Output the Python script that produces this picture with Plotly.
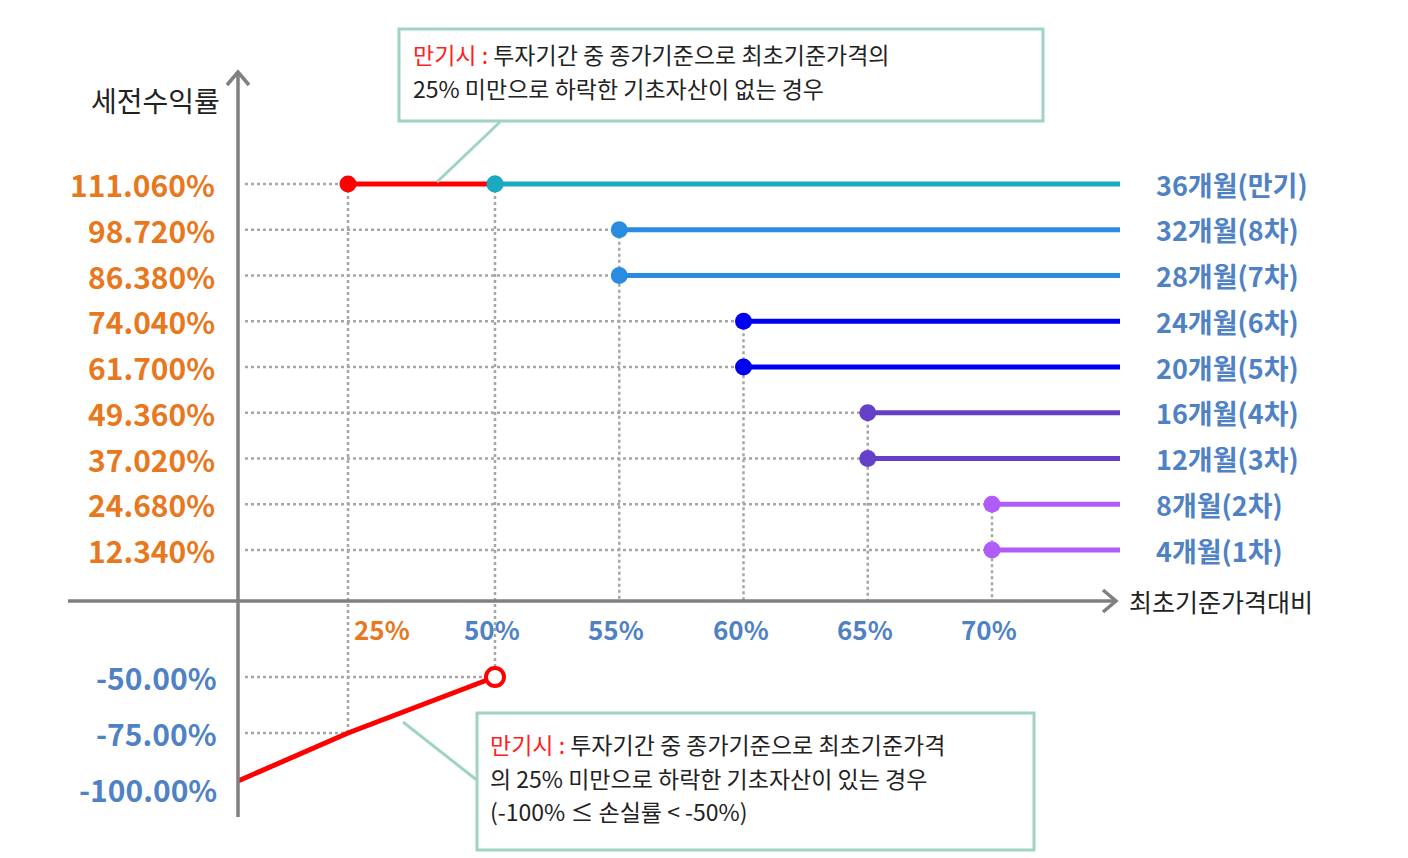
import numpy as np
import plotly.graph_objects as go

# payoff levels (pre-tax return, %) and the barrier each one needs (% of initial price)
levels = [12.34, 24.68, 37.02, 49.36, 61.70, 74.04, 86.38, 98.72, 111.06]
barriers = [70, 70, 65, 65, 60, 60, 55, 55, 50]
periods = ["4개월(1차)", "8개월(2차)", "12개월(3차)", "16개월(4차)", "20개월(5차)",
           "24개월(6차)", "28개월(7차)", "32개월(8차)", "36개월(만기)"]
level_labels = ["12.340%", "24.680%", "37.020%", "49.360%", "61.700%",
                "74.040%", "86.380%", "98.720%", "111.060%"]

# maturity with a knock-in: loss line
loss_x = [0, 25, 50]
loss_y = [-100, -75, -50]
loss_labels = ["-100.00%", "-75.00%", "-50.00%"]

x_ticks = [25, 50, 55, 60, 65, 70]
x_tick_labels = ["25%", "50%", "55%", "60%", "65%", "70%"]
ki_barrier = 25

# styling
line_colors = ["#B05CF8", "#B05CF8", "#6440C8", "#6440C8", "#0000F0",
               "#0000F0", "#2A8CE0", "#2A8CE0", "#1AAAC0"]
ORANGE = "#E8781E"
BLUE_TXT = "#4F82C4"
GUIDE = "#A6A6A6"
AXIS = "#808080"
BOX = "#9FD4C4"
FONT = "Noto Sans CJK KR"

# schematic (non-linear) scales, drawn in pixel space
def xp(v):
    return np.interp(v, [0, 25, 50, 70, 80], [238, 348, 495, 992, 1240.5])

def yp(v):
    return np.interp(v, [-100, -75, -50, 0, 12.34, 111.06], [781, 733, 677, 601, 550, 184])

AXIS_X0 = 238
LINE_END = 1120

fig = go.Figure()

def dotted(xs, ys):
    fig.add_trace(go.Scatter(x=xs, y=ys, mode="lines", hoverinfo="skip",
                             line=dict(color=GUIDE, width=2.5, dash="dot")))

# horizontal guides from the y axis to each start point
for lv, b in zip(levels, barriers):
    xstart = ki_barrier if lv == levels[-1] else b
    dotted([AXIS_X0 + 7, xp(xstart)], [yp(lv), yp(lv)])
# vertical guides down to the x axis
for b in sorted(set(barriers)):
    top = max(lv for lv, bb in zip(levels, barriers) if bb == b)
    bottom = yp(-50) if b == 50 else yp(0)
    dotted([xp(b), xp(b)], [yp(top), bottom])
dotted([xp(ki_barrier), xp(ki_barrier)], [yp(levels[-1]), yp(-75)])
dotted([AXIS_X0 + 7, xp(50)], [yp(-50), yp(-50)])
dotted([AXIS_X0 + 7, xp(25)], [yp(-75), yp(-75)])

# axes with open arrowheads
fig.add_shape(type="line", x0=AXIS_X0, x1=AXIS_X0, y0=817, y1=72, line=dict(color=AXIS, width=3.5))
fig.add_shape(type="line", x0=68, x1=1115, y0=yp(0), y1=yp(0), line=dict(color=AXIS, width=3.5))
fig.add_shape(type="path", path="M 227 85 L 238 72 L 249 85", line=dict(color=AXIS, width=3.5))
fig.add_shape(type="path", path="M 1103 590 L 1116 601 L 1103 612", line=dict(color=AXIS, width=3.5))

# payoff lines
for lv, b, c, p in zip(levels, barriers, line_colors, periods):
    fig.add_trace(go.Scatter(x=[xp(b), LINE_END], y=[yp(lv), yp(lv)], mode="lines",
                             line=dict(color=c, width=5), hoverinfo="skip"))
    fig.add_trace(go.Scatter(x=[xp(b)], y=[yp(lv)], mode="markers",
                             marker=dict(color=c, size=17), hoverinfo="skip"))
    fig.add_annotation(x=1154, y=yp(lv), text=p, showarrow=False, xanchor="left",
                       font=dict(size=27, color=BLUE_TXT, family=FONT, weight="bold"))

# maturity: red segment between 25% and 50%
fig.add_trace(go.Scatter(x=[xp(ki_barrier), xp(50)], y=[yp(levels[-1])] * 2, mode="lines",
                         line=dict(color="#FF0000", width=5), hoverinfo="skip"))
fig.add_trace(go.Scatter(x=[xp(ki_barrier)], y=[yp(levels[-1])], mode="markers",
                         marker=dict(color="#FF0000", size=17), hoverinfo="skip"))
fig.add_trace(go.Scatter(x=[xp(50)], y=[yp(levels[-1])], mode="markers",
                         marker=dict(color=line_colors[-1], size=17), hoverinfo="skip"))

# loss line
fig.add_trace(go.Scatter(x=xp(loss_x), y=yp(loss_y), mode="lines",
                         line=dict(color="#FF0000", width=5), hoverinfo="skip"))
fig.add_trace(go.Scatter(x=[xp(loss_x[-1])], y=[yp(loss_y[-1])], mode="markers",
                         marker=dict(color="white", size=18, line=dict(color="#FF0000", width=4)),
                         hoverinfo="skip"))

# y tick labels
for lv, t in zip(levels, level_labels):
    fig.add_annotation(x=217, y=yp(lv), text=t, showarrow=False, xanchor="right",
                       font=dict(size=30, color=ORANGE, family=FONT, weight="bold"))
for lv, t in zip(loss_y, loss_labels):
    fig.add_annotation(x=219, y=yp(lv) + (8 if lv == -100 else 0), text=t, showarrow=False,
                       xanchor="right", font=dict(size=30, color=BLUE_TXT, family=FONT, weight="bold"))

# x tick labels
for v, t in zip(x_ticks, x_tick_labels):
    fig.add_annotation(x=xp(v), y=628, text=t, showarrow=False,
                       xshift=34 if v == ki_barrier else -3,
                       font=dict(size=26, color=ORANGE if v == ki_barrier else BLUE_TXT,
                                 family=FONT, weight="bold"))

# axis titles
fig.add_annotation(x=222, y=100, text="세전수익률", showarrow=False, xanchor="right",
                   font=dict(size=28, color="#222222", family=FONT))
fig.add_annotation(x=1127, y=601, text="최초기준가격대비", showarrow=False, xanchor="left",
                   font=dict(size=25, color="#222222", family=FONT))

# callout boxes
fig.add_shape(type="line", x0=500, y0=122, x1=437, y1=182, line=dict(color=BOX, width=3))
fig.add_shape(type="rect", x0=399, y0=29, x1=1043, y1=121, fillcolor="white",
              line=dict(color=BOX, width=3))
fig.add_shape(type="line", x0=403, y0=722, x1=478, y1=781, line=dict(color=BOX, width=3))
fig.add_shape(type="rect", x0=477, y0=713, x1=1034, y1=850, fillcolor="white",
              line=dict(color=BOX, width=3))

RED_TAG = "<span style='color:#FF2020'>만기시 :</span> "
top_lines = [RED_TAG + "투자기간 중 종가기준으로 최초기준가격의",
             "25% 미만으로 하락한 기초자산이 없는 경우"]
bottom_lines = [RED_TAG + "투자기간 중 종가기준으로 최초기준가격",
                "의 25% 미만으로 하락한 기초자산이 있는 경우",
                "(-100% ≤ 손실률 < -50%)"]
for i, t in enumerate(top_lines):
    fig.add_annotation(x=411, y=54 + 33.5 * i, text=t, showarrow=False, xanchor="left",
                       font=dict(size=23, color="#222222", family=FONT))
for i, t in enumerate(bottom_lines):
    fig.add_annotation(x=488, y=744 + 33.5 * i, text=t, showarrow=False, xanchor="left",
                       font=dict(size=23, color="#222222", family=FONT))

# the page body adds an 8px margin, so shift the pixel ranges to match
fig.update_layout(
    width=1408, height=858, showlegend=False,
    margin=dict(l=0, r=0, t=0, b=0),
    plot_bgcolor="white", paper_bgcolor="white",
    xaxis=dict(range=[8, 1416], visible=False, fixedrange=True),
    yaxis=dict(range=[866, 8], visible=False, fixedrange=True),
)

fig.write_html("out.html")
